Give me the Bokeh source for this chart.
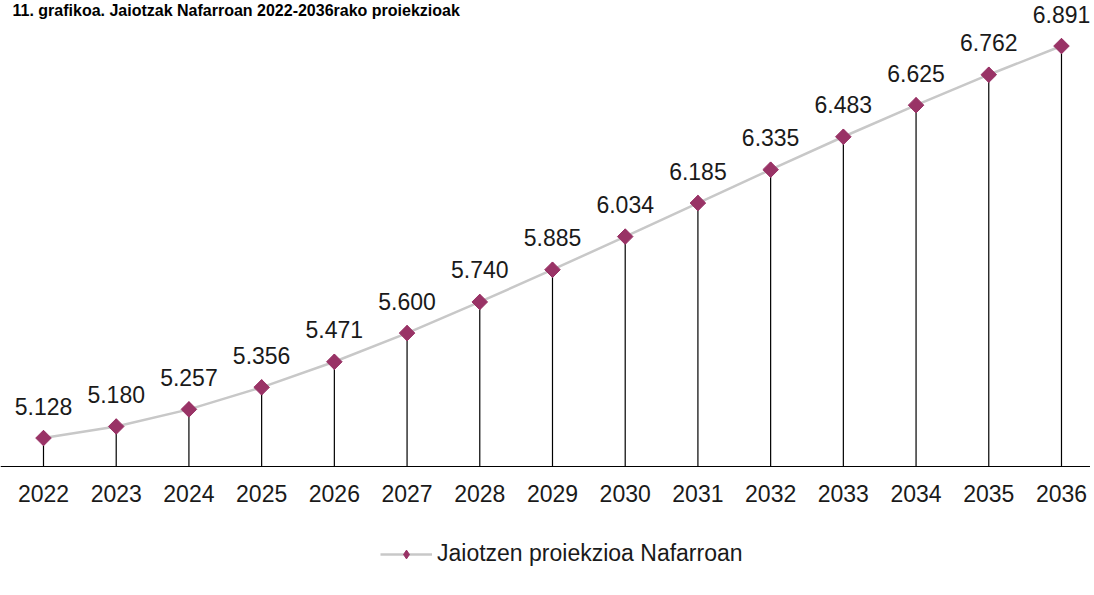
import math
from bokeh.plotting import figure
from bokeh.models import ColumnDataSource, Legend, LegendItem, Range1d, Label
from bokeh.embed import file_html
from bokeh.resources import INLINE

years = [2022, 2023, 2024, 2025, 2026, 2027, 2028, 2029, 2030, 2031, 2032, 2033, 2034, 2035, 2036]
births = [5128, 5180, 5257, 5356, 5471, 5600, 5740, 5885, 6034, 6185, 6335, 6483, 6625, 6762, 6891]
year_labels = [str(y) for y in years]
value_labels = ["{:,}".format(v).replace(",", ".") for v in births]
series_name = "Jaiotzen proiekzioa Nafarroan"
title_text = "11. grafikoa. Jaiotzak Nafarroan 2022-2036rako proiekzioak"

FONT = "Liberation Sans"
base = 5000

W, H = 1090, 590
src = ColumnDataSource(dict(x=years, y=births, lab=value_labels, base=[base] * len(years)))

p = figure(width=W, height=H, output_backend="svg", toolbar_location=None,
           x_range=Range1d(2021.4087, 2036.399), y_range=Range1d(4442.3, 7095.8),
           min_border_left=0, min_border_right=0, min_border_top=0, min_border_bottom=0)
p.outline_line_color = None
p.background_fill_color = "white"
p.border_fill_color = "white"
p.xgrid.visible = False
p.ygrid.visible = False
p.yaxis.visible = False

p.segment(x0="x", y0="base", x1="x", y1="y", source=src, line_color="black", line_width=1.2)
ln = p.line("x", "y", source=src, line_color="#c8c8c8", line_width=2.5)
# diamond under the rotated squares: hidden in the plot, shown in the legend
dm = p.scatter("x", "y", source=src, marker="diamond", size=15,
               fill_color="#993366", line_color="#993366")
sc = p.scatter("x", "y", source=src, marker="square", angle=math.pi / 4, size=11,
               fill_color="#993366", line_color="#993366")
p.text(x="x", y="y", text="lab", source=src, text_align="center", text_baseline="alphabetic",
       y_offset=-32, text_font_size="23px", text_font={"value": FONT},
       text_color="#1a1a1a")

p.xaxis.fixed_location = base
p.xaxis.ticker = years
p.xaxis.major_label_overrides = {y: s for y, s in zip(years, year_labels)}
p.xaxis.major_tick_line_color = None
p.xaxis.minor_tick_line_color = None
p.xaxis.axis_line_color = "black"
p.xaxis.axis_line_width = 1.2
p.xaxis.major_label_text_font = FONT
p.xaxis.major_label_text_font_size = "23px"
p.xaxis.major_label_text_color = "#1a1a1a"
p.xaxis.major_label_standoff = 13

p.add_layout(Label(x=12, y=H - 1, x_units="screen", y_units="screen", text=title_text,
                   text_font=FONT, text_font_size="16px", text_font_style="bold",
                   text_baseline="top", text_color="#000000"))

legend = Legend(items=[LegendItem(label=series_name, renderers=[ln, dm])],
                location=(380, 23), orientation="horizontal",
                label_text_font=FONT, label_text_font_size="23px", label_text_color="#1a1a1a",
                glyph_width=52, glyph_height=22, border_line_color=None,
                background_fill_alpha=0, margin=0, padding=0, label_standoff=5)
p.add_layout(legend, "center")

open("out.html", "w").write(file_html(p, INLINE))
